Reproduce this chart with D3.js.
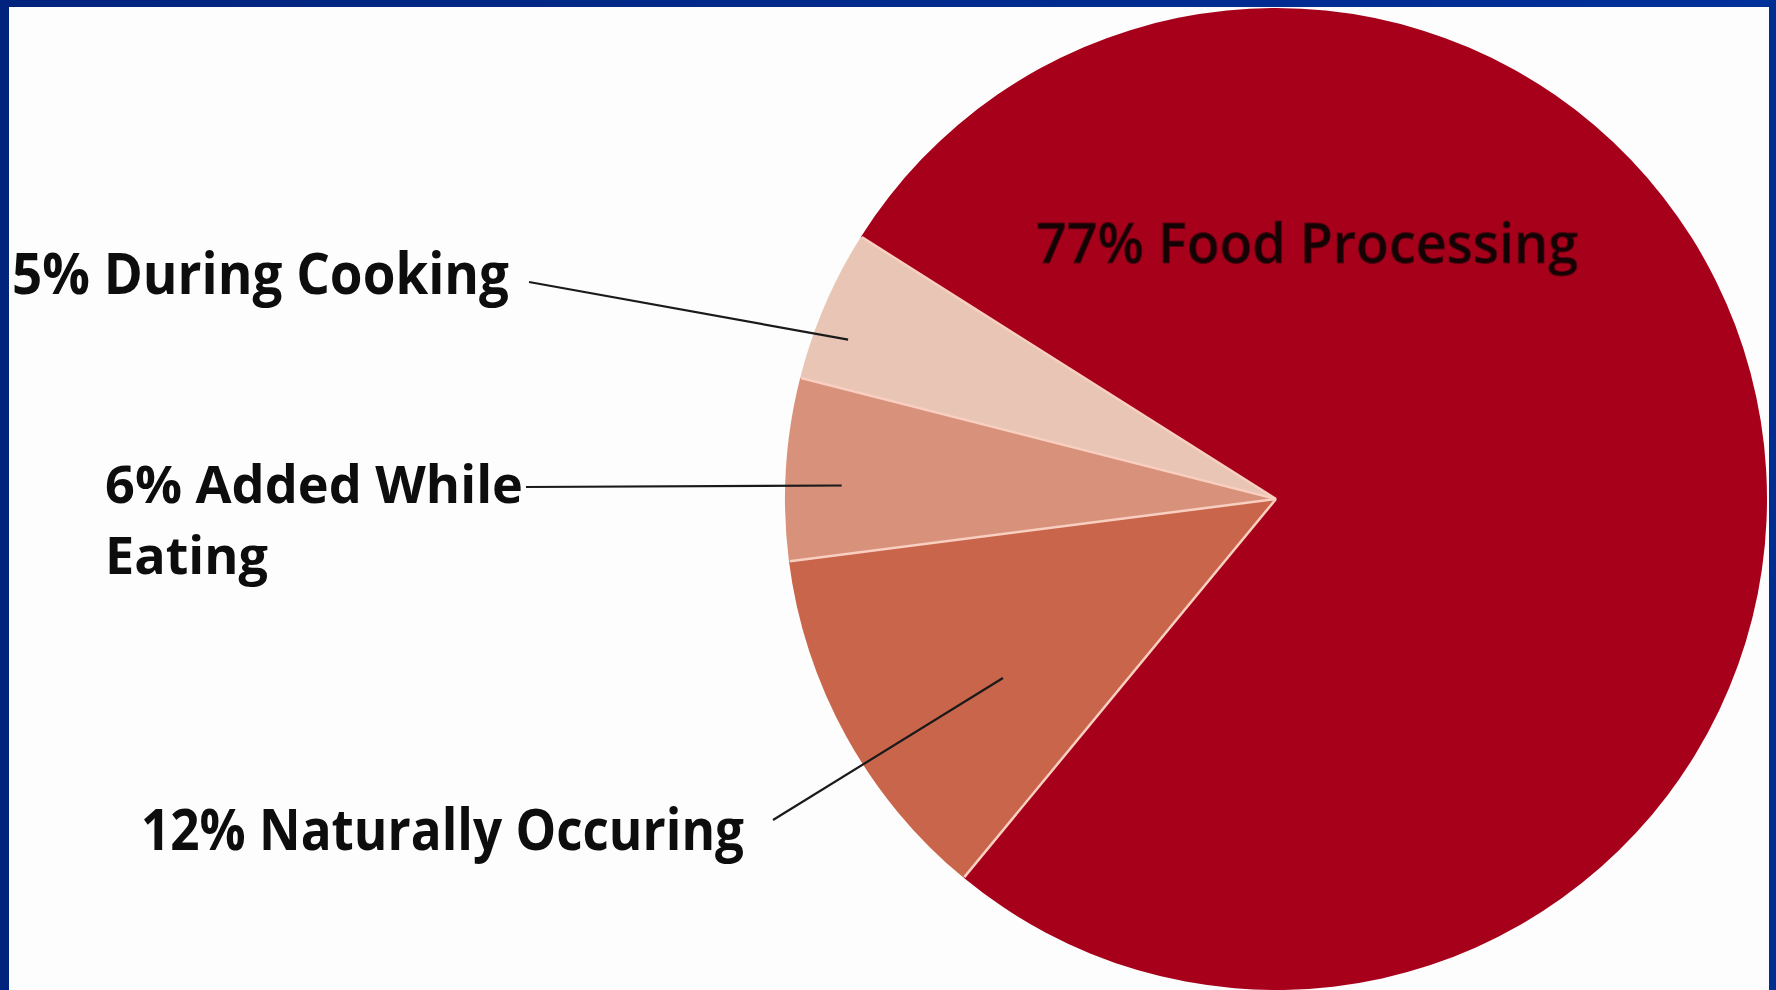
<!DOCTYPE html>
<html>
<head>
<meta charset="utf-8">
<script src="https://cdn.jsdelivr.net/npm/d3@7"></script>
<style>
  html, body { margin: 0; padding: 0; background: #fdfdfd; }
  svg { display: block; }
</style>
</head>
<body>
<svg id="chart" width="1776" height="990"></svg>
<script>
// data
const categories = ["Food Processing", "Naturally Occuring", "Added While Eating", "During Cooking"];
const percents = [77, 12, 6, 5];
const sliceColors = ["#a6001b", "#c9654b", "#d8927b", "#e9c5b5"];

const width = 1776, height = 990;
const svg = d3.select("#chart");

// pie geometry
const cx = 1276, cy = 499, radius = 491;
const offset = -57.7 * Math.PI / 180;   // where the big slice starts

const pie = d3.pie().sort(null)
  .startAngle(offset)
  .endAngle(offset + 2 * Math.PI);
const arcs = pie(percents);

const arc = d3.arc().innerRadius(0).outerRadius(radius);
const color = d3.scaleOrdinal().domain(categories).range(sliceColors);

const g = svg.append("g").attr("transform", `translate(${cx},${cy})`);

g.selectAll("path.slice")
  .data(arcs)
  .join("path")
    .attr("class", "slice")
    .attr("d", arc)
    .attr("fill", (d, i) => color(categories[i]));

// thin light separators between slices (no outline on the rim)
g.selectAll("line.sep")
  .data(arcs)
  .join("line")
    .attr("class", "sep")
    .attr("x1", 0).attr("y1", 0)
    .attr("x2", d => Math.sin(d.startAngle) * (radius - 1))
    .attr("y2", d => -Math.cos(d.startAngle) * (radius - 1))
    .attr("stroke", "#f8cfc0")
    .attr("stroke-width", 2.5);

// label layout (position of the text + how deep the leader goes into the slice)
const layout = {
  "During Cooking":     { lines: ["5% During Cooking"], x: 12, y: 294, size: 58, widths: [497], from: [529, 282], depth: 0.93, turn: -0.05 },
  "Added While Eating": { lines: ["6% Added While", "Eating"], x: 105, y: 503, size: 52, widths: [418, 163], lh: 71, from: [526, 487], depth: 0.885, turn: -0.03 },
  "Naturally Occuring": { lines: ["12% Naturally Occuring"], x: 141, y: 850, size: 58, widths: [603], from: [773, 820], depth: 0.665, turn: -0.076 }
};

const fontFamily = "'Open Sans', Lato, 'DejaVu Sans', sans-serif";

arcs.forEach((d, i) => {
  const name = categories[i];
  const L = layout[name];
  if (!L) return;
  const mid = (d.startAngle + d.endAngle) / 2 + L.turn;
  const r = radius * L.depth;
  const ex = cx + Math.sin(mid) * r;
  const ey = cy - Math.cos(mid) * r;

  svg.append("line")
    .attr("x1", L.from[0]).attr("y1", L.from[1])
    .attr("x2", ex).attr("y2", ey)
    .attr("stroke", "#1a1a1a")
    .attr("stroke-width", 2.2);

  // one text per label, wrapped lines as tspans
  const label = svg.append("text")
    .attr("font-family", fontFamily)
    .attr("font-weight", 700)
    .attr("font-size", L.size)
    .attr("fill", "#0d0d0d");

  L.lines.forEach((t, j) => {
    label.append("tspan")
      .attr("x", L.x)
      .attr("y", L.y + j * (L.lh || 0))
      .attr("textLength", L.widths[j])
      .attr("lengthAdjust", "spacingAndGlyphs")
      .text(t);
  });
});

// label inside the big slice
svg.append("text")
  .attr("x", 1036)
  .attr("y", 263)
  .attr("font-family", fontFamily)
  .attr("font-weight", 600)
  .attr("font-size", 56)
  .attr("fill", "#140204")
  .attr("stroke", "#5a0010")
  .attr("stroke-width", 1)
  .attr("textLength", 542)
  .attr("lengthAdjust", "spacingAndGlyphs")
  .text(percents[0] + "% " + categories[0]);

// blue frame
const grad = svg.append("defs").append("linearGradient")
  .attr("id", "topBar").attr("x1", 0).attr("x2", 1);
grad.append("stop").attr("offset", 0).attr("stop-color", "#00247e");
grad.append("stop").attr("offset", 1).attr("stop-color", "#00309a");

svg.append("rect").attr("x", 0).attr("y", 0).attr("width", width).attr("height", 7).attr("fill", "url(#topBar)");
svg.append("rect").attr("x", 0).attr("y", 0).attr("width", 9).attr("height", height).attr("fill", "#00247e");
svg.append("rect").attr("x", 1769).attr("y", 0).attr("width", 7).attr("height", height).attr("fill", "#002d92");
</script>
</body>
</html>
